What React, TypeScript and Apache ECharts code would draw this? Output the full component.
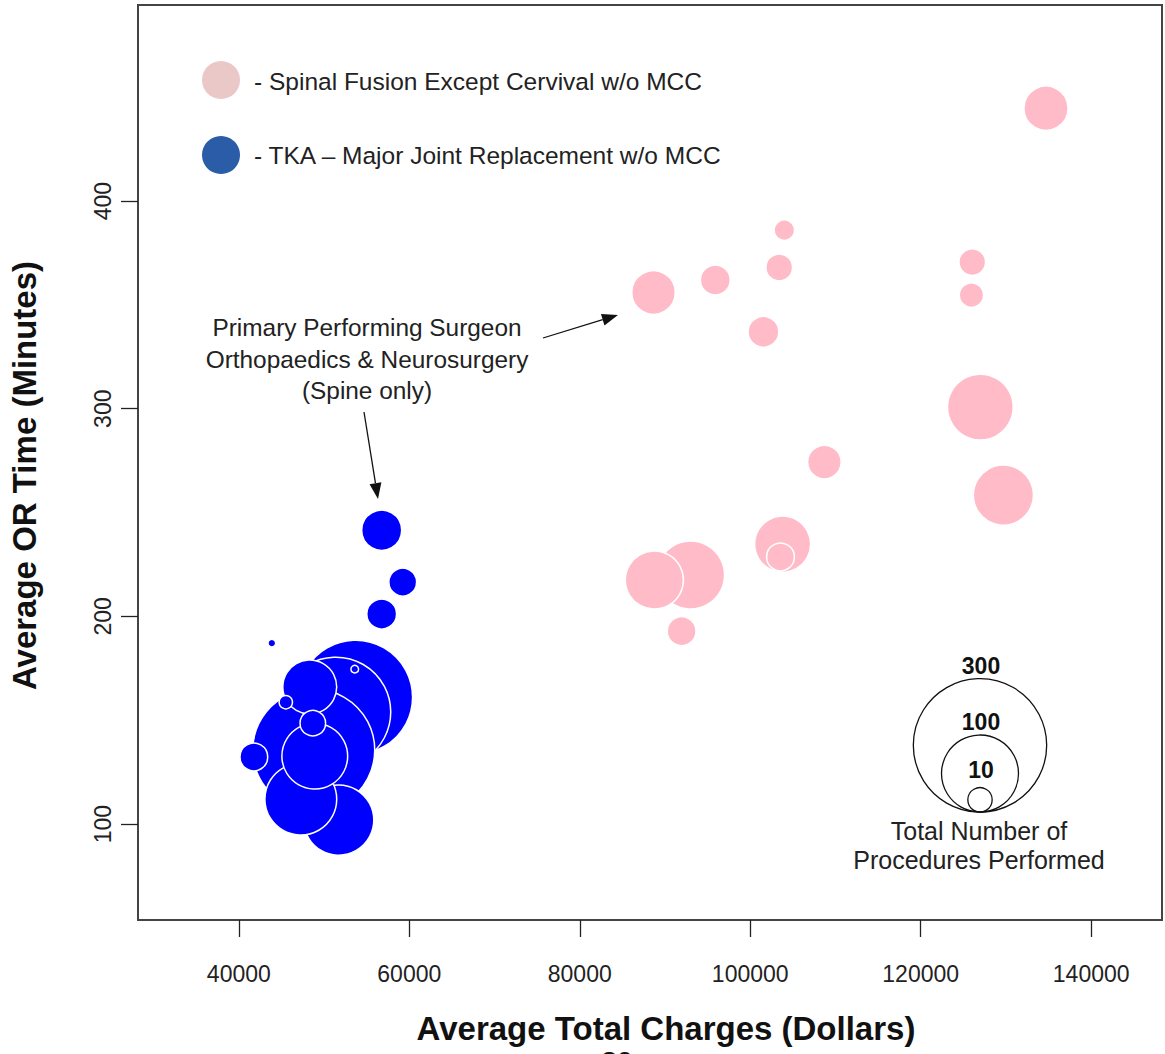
import React, { useEffect, useRef } from "react";
import * as echarts from "echarts";

// ---- data ----
// [Average Total Charges ($), Average OR Time (min), Total Number of Procedures]
const spineCharges = [134700, 104000, 88650, 95900, 103400, 101550, 126050, 125950, 127000, 129700, 108700, 103800, 103550, 93000, 88750, 91950];
const spineORTime = [444.7, 386, 356, 362, 368, 337, 370.6, 354.7, 300.8, 258.4, 274.3, 234.8, 228.6, 219.9, 217.5, 192.9];
const spineCounts = [33, 7, 32, 15, 12, 16, 12, 10, 73, 61, 19, 53, 13, 78, 57, 14];

const tkaCharges = [43870, 56760, 59230, 56760, 53700, 51370, 48790, 51720, 47270, 48910, 48320, 48680, 45510, 41760, 53600];
const tkaORTime = [187.1, 241.5, 216.5, 201.1, 161.1, 153.9, 135.6, 101.9, 112, 132.7, 166, 148.6, 158.7, 132.3, 174.6];
const tkaCounts = [1, 27, 13, 15, 219, 204, 251, 83, 87, 73, 49, 11, 3, 13, 1];

const xTicks = [40000, 60000, 80000, 100000, 120000, 140000];
const yTicks = [100, 200, 300, 400];
const sizeLegendCounts = [300, 100, 10];

const seriesNames = ["Spinal Fusion Except Cervival w/o MCC", "TKA \u2013 Major Joint Replacement w/o MCC"];

// bubble radius (px) for a count
const radiusOf = (n: number) => 3.85 * Math.sqrt(n);

const zip = (xs: number[], ys: number[], ns: number[]) => xs.map((x, i) => [x, ys[i], ns[i]]);

const FONT = '"Liberation Sans", Arial, Helvetica, sans-serif';

export default function App() {
  const ref = useRef<HTMLDivElement>(null);
  useEffect(() => {
    if (!ref.current) return;
    const chart = echarts.init(ref.current, undefined, { renderer: "svg" });

    const legendBottom = 812;
    const legendCx = 980;
    const sizeCircles = sizeLegendCounts.map((n) => {
      const r = radiusOf(n);
      return {
        type: "circle",
        shape: { cx: legendCx, cy: legendBottom - r, r },
        style: { fill: "none", stroke: "#111", lineWidth: 1.3 },
        z: 10,
      };
    });
    const sizeLabelY = [666, 722, 770];
    const sizeLabels = sizeLegendCounts.map((n, i) => ({
      type: "text",
      x: legendCx + 1,
      y: sizeLabelY[i],
      style: {
        text: String(n),
        font: `bold 23px ${FONT}`,
        fill: "#111",
        align: "center",
        verticalAlign: "middle",
      },
      z: 10,
    }));

    const arrowHead = (x1: number, y1: number, x2: number, y2: number, len = 16, half = 6) => {
      const dx = x2 - x1;
      const dy = y2 - y1;
      const d = Math.sqrt(dx * dx + dy * dy);
      const ux = dx / d;
      const uy = dy / d;
      const bx = x2 - ux * len;
      const by = y2 - uy * len;
      return [
        {
          type: "line",
          shape: { x1, y1, x2: bx, y2: by },
          style: { stroke: "#111", lineWidth: 1.3 },
          z: 10,
        },
        {
          type: "polygon",
          shape: {
            points: [
              [x2, y2],
              [bx - uy * half, by + ux * half],
              [bx + uy * half, by - ux * half],
            ],
          },
          style: { fill: "#111" },
          z: 10,
        },
      ];
    };

    const text = (t: string, x: number, y: number, size: number, align = "center") => ({
      type: "text",
      x,
      y,
      style: { text: t, font: `${size}px ${FONT}`, fill: "#222", align, verticalAlign: "middle" },
      z: 10,
    });

    const option: any = {
      animation: false,
      backgroundColor: "#fff",
      grid: {
        left: 136,
        right: 3,
        top: 5,
        bottom: 134,
        show: true,
        borderColor: "#444",
        borderWidth: 2,
        containLabel: false,
      },
      xAxis: {
        type: "value",
        min: 28170,
        max: 148310,
        name: "Average Total Charges (Dollars)",
        nameLocation: "middle",
        nameGap: 92,
        nameTextStyle: {
          fontFamily: FONT,
          fontWeight: "bold",
          fontSize: 33,
          color: "#111",
          padding: [0, 0, 0, 32],
        },
        axisLine: { show: false },
        splitLine: { show: false },
        axisTick: { show: true, length: 17, customValues: xTicks, lineStyle: { color: "#222", width: 1.3 } },
        axisLabel: {
          customValues: xTicks,
          formatter: (v: number) => String(v),
          margin: 42,
          fontFamily: FONT,
          fontSize: 23,
          color: "#222",
        },
      },
      yAxis: {
        type: "value",
        min: 53.8,
        max: 494.4,
        name: "Average OR Time (Minutes)",
        nameLocation: "middle",
        nameGap: 97,
        nameRotate: 90,
        nameTextStyle: {
          fontFamily: FONT,
          fontWeight: "bold",
          fontSize: 33,
          color: "#111",
          padding: [0, 26, 0, 0],
        },
        axisLine: { show: false },
        splitLine: { show: false },
        axisTick: { show: true, length: 17, customValues: yTicks, lineStyle: { color: "#222", width: 1.3 } },
        axisLabel: {
          customValues: yTicks,
          formatter: (v: number) => String(v),
          rotate: 90,
          margin: 24,
          fontFamily: FONT,
          fontSize: 23,
          color: "#222",
        },
      },
      series: [
        {
          name: seriesNames[0],
          type: "scatter",
          data: zip(spineCharges, spineORTime, spineCounts),
          symbol: "circle",
          symbolSize: (v: number[]) => 2 * radiusOf(v[2]),
          itemStyle: { color: "#FFBCC8", borderColor: "#fff", borderWidth: 1.5, opacity: 1 },
          emphasis: { disabled: true },
        },
        {
          name: seriesNames[1],
          type: "scatter",
          data: zip(tkaCharges, tkaORTime, tkaCounts),
          symbol: "circle",
          symbolSize: (v: number[]) => 2 * radiusOf(v[2]),
          itemStyle: { color: "#0000FF", borderColor: "#fff", borderWidth: 1.5, opacity: 1 },
          emphasis: { disabled: true },
        },
      ],
      graphic: [
        { type: "circle", shape: { cx: 221, cy: 80, r: 19 }, style: { fill: "#EBC8C8" }, z: 10 },
        text("- " + seriesNames[0], 254, 81, 24.5, "left"),
        { type: "circle", shape: { cx: 221, cy: 155, r: 19 }, style: { fill: "#2A5CA8" }, z: 10 },
        text("- " + seriesNames[1], 254, 155, 24.5, "left"),
        text("Primary Performing Surgeon", 367, 327, 24.4),
        text("Orthopaedics & Neurosurgery", 367, 359, 24.4),
        text("(Spine only)", 367, 390, 24.4),
        ...arrowHead(543, 338, 618, 315),
        ...arrowHead(364, 412, 378, 499),
        ...sizeCircles,
        ...sizeLabels,
        text("Total Number of", 979, 831, 25),
        text("Procedures Performed", 979, 860, 25),
        {
          type: "text",
          x: 617,
          y: 1047,
          style: { text: "30", font: `bold 28px ${FONT}`, fill: "#111", align: "center", verticalAlign: "top" },
          z: 10,
        },
      ],
    };
    chart.setOption(option);
    return () => chart.dispose();
  }, []);

  return (
    <div
      ref={ref}
      style={{ position: "absolute", left: 0, top: 0, width: 1165, height: 1054, background: "#fff" }}
    />
  );
}
